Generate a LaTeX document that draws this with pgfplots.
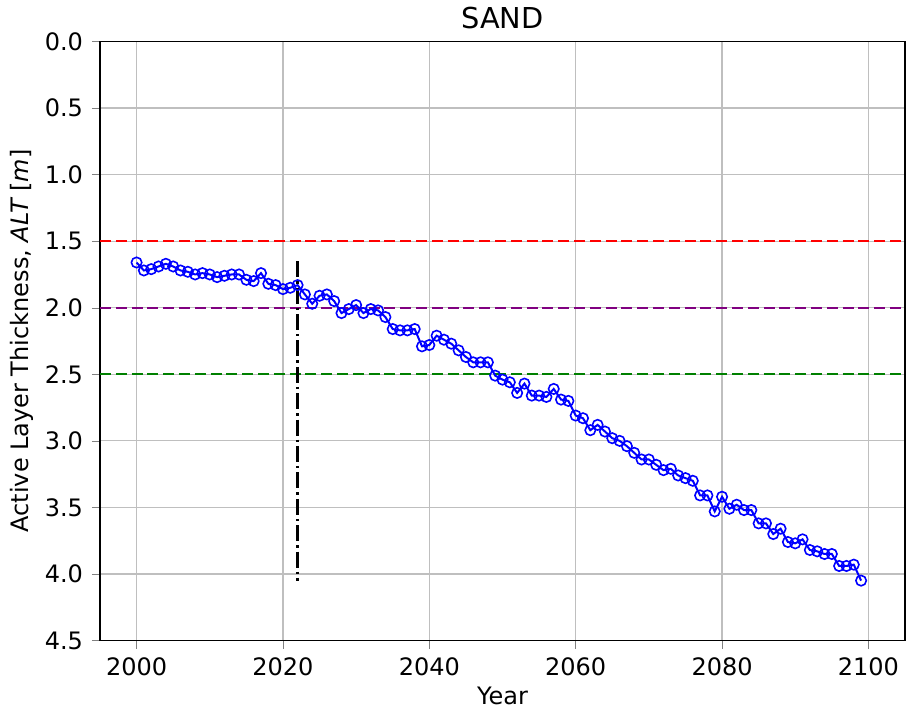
\documentclass[border=0pt]{standalone}
\usepackage{pgfplots}
\pgfplotsset{compat=1.18}
\usepackage{fontspec}
\setmainfont{DejaVu Sans}
\definecolor{mplpurple}{RGB}{128,0,128}
\definecolor{mplgreen}{RGB}{0,128,0}
\begin{document}
\begin{tikzpicture}
\begin{axis}[
  scale only axis,
  width=402.5pt, height=299.5pt,
  xmin=1995, xmax=2105,
  ymin=0, ymax=4.5,
  y dir=reverse,
  xtick={2000,2020,...,2100},
  ytick={0,0.5,...,4.5},
  yticklabel style={xshift=-1pt,/pgf/number format/.cd,fixed,fixed zerofill,precision=1},
  xticklabel style={yshift=-1pt,/pgf/number format/.cd,1000 sep={}},
  /pgf/number format/assume math mode=true,
  tick label style={font=\fontsize{12}{14}\selectfont},
  label style={font=\fontsize{12}{14}\selectfont},
  tick align=outside,
  tick pos=left,
  major tick length=4pt,
  grid=major,
  grid style={color=black!25, line width=0.6pt},
  axis line style={line width=0.6pt},
  title={SAND},
  title style={font=\fontsize{14.4}{16}\selectfont, yshift=-3pt},
  xlabel={Year},
  ylabel={Active Layer Thickness, {\itshape ALT} [{\itshape m}]},
  xlabel style={yshift=1pt},
  ylabel style={yshift=-1pt},
]
\addplot[red, line width=1pt, dash pattern=on 5.5pt off 2.4pt] coordinates {(1995,1.5) (2105,1.5)};
\addplot[mplpurple, line width=1pt, dash pattern=on 5.5pt off 2.4pt] coordinates {(1995,2.0) (2105,2.0)};
\addplot[mplgreen, line width=1pt, dash pattern=on 5.5pt off 2.4pt] coordinates {(1995,2.5) (2105,2.5)};
\addplot[black, line width=1.4pt, dash pattern=on 8pt off 2pt on 1.2pt off 2pt] coordinates {(2022,1.65) (2022,4.05)};
\addplot[blue, line width=1pt, mark=o, mark size=2.6pt, mark options={solid, line width=0.8pt}] coordinates {
(2000,1.66) (2001,1.72) (2002,1.71) (2003,1.69) (2004,1.67) (2005,1.69) (2006,1.72) (2007,1.73) (2008,1.75) (2009,1.74)
(2010,1.75) (2011,1.77) (2012,1.76) (2013,1.75) (2014,1.75) (2015,1.79) (2016,1.80) (2017,1.74) (2018,1.82) (2019,1.83)
(2020,1.86) (2021,1.85) (2022,1.83) (2023,1.90) (2024,1.97) (2025,1.91) (2026,1.90) (2027,1.95) (2028,2.04) (2029,2.01)
(2030,1.98) (2031,2.04) (2032,2.01) (2033,2.02) (2034,2.07) (2035,2.16) (2036,2.17) (2037,2.17) (2038,2.16) (2039,2.29)
(2040,2.28) (2041,2.21) (2042,2.24) (2043,2.27) (2044,2.32) (2045,2.37) (2046,2.41) (2047,2.41) (2048,2.41) (2049,2.51)
(2050,2.54) (2051,2.56) (2052,2.64) (2053,2.57) (2054,2.66) (2055,2.66) (2056,2.67) (2057,2.61) (2058,2.69) (2059,2.70)
(2060,2.81) (2061,2.83) (2062,2.92) (2063,2.88) (2064,2.93) (2065,2.98) (2066,3.00) (2067,3.04) (2068,3.09) (2069,3.14)
(2070,3.14) (2071,3.18) (2072,3.22) (2073,3.21) (2074,3.26) (2075,3.28) (2076,3.30) (2077,3.41) (2078,3.41) (2079,3.53)
(2080,3.42) (2081,3.51) (2082,3.48) (2083,3.52) (2084,3.52) (2085,3.62) (2086,3.62) (2087,3.70) (2088,3.66) (2089,3.76)
(2090,3.77) (2091,3.74) (2092,3.82) (2093,3.83) (2094,3.85) (2095,3.85) (2096,3.94) (2097,3.94) (2098,3.93) (2099,4.05)
};
\end{axis}
\useasboundingbox ([xshift=-50pt,yshift=-35.5pt]current axis.south west) rectangle ([xshift=2pt,yshift=20pt]current axis.north east);
\end{tikzpicture}
\end{document}
